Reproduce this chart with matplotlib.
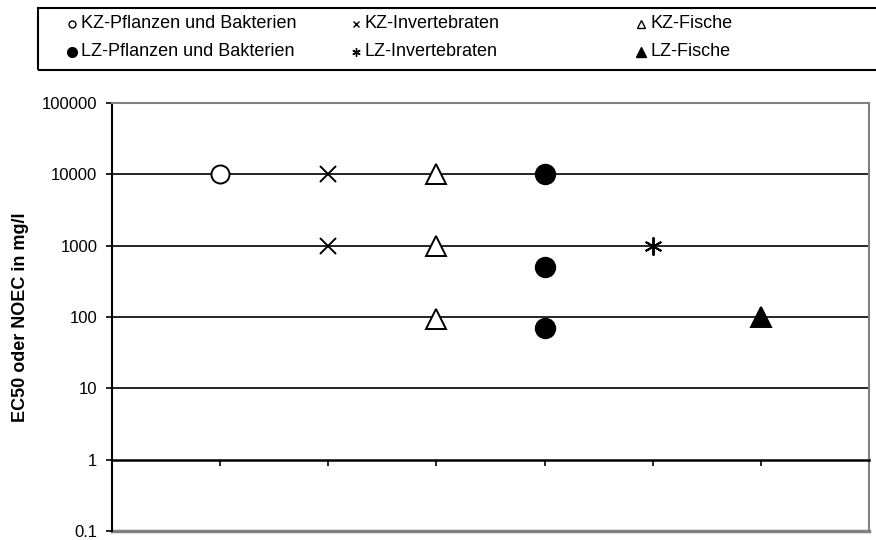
import matplotlib
matplotlib.use("Agg")
import matplotlib.pyplot as plt
from matplotlib.lines import Line2D
from matplotlib.patches import Rectangle
from matplotlib.ticker import FixedLocator, NullLocator

plt.rcParams['font.family'] = ['Liberation Sans', 'DejaVu Sans']

# Daten
serien = ['KZ-Pflanzen und Bakterien', 'KZ-Invertebraten', 'KZ-Fische',
          'LZ-Pflanzen und Bakterien', 'LZ-Invertebraten', 'LZ-Fische']
x_pos = [1, 2, 3, 4, 5, 6]
werte = [
    [10000],
    [10000, 1000],
    [10000, 1000, 95],
    [10000, 500, 70],
    [1000],
    [100],
]
y_ticks = [0.1, 1, 10, 100, 1000, 10000, 100000]
y_labels = ['0.1', '1', '10', '100', '1000', '10000', '100000']

# Marker-Stile
stile = [
    dict(marker='o', mfc='white', ms=13),
    dict(marker='x', mfc='none', ms=12),
    dict(marker='^', mfc='white', ms=14),
    dict(marker='o', mfc='black', ms=14),
    dict(marker=(6, 2, 0), mfc='none', ms=13),
    dict(marker='^', mfc='black', ms=14),
]
leg_ms = [5, 5, 6, 7, 6, 7]

W, H = 876, 540
fig = plt.figure(figsize=(W / 100, H / 100), dpi=100)
ax = fig.add_axes([112 / W, 1 - 531 / H, (869 - 112) / W, (531 - 103) / H])

ax.set_yscale('log')
ax.set_ylim(0.1, 100000)
ax.set_xlim(0, 7)

for g in [10, 100, 1000, 10000]:
    ax.axhline(g, color='black', lw=1.2, zorder=1)
ax.axhline(0.1, color='#808080', lw=2.5, clip_on=False, zorder=1)

for x, ys, st in zip(x_pos, werte, stile):
    ax.plot([x] * len(ys), ys, linestyle='none', color='black', mec='black',
            mew=1.4, zorder=3, clip_on=False, **st)

# Achsen
ax.spines['bottom'].set_position(('data', 1))
ax.spines['bottom'].set_linewidth(1.8)
ax.spines['left'].set_linewidth(1.5)
ax.spines['top'].set_color('#808080')
ax.spines['top'].set_linewidth(1.5)
ax.spines['right'].set_color('#808080')
ax.spines['right'].set_linewidth(1.5)

ax.xaxis.set_major_locator(FixedLocator([1, 2, 3, 4, 5, 6, 7]))
ax.xaxis.set_minor_locator(NullLocator())
ax.tick_params(axis='x', direction='out', length=4, width=1.2, labelbottom=False)

ax.yaxis.set_major_locator(FixedLocator(y_ticks))
ax.yaxis.set_minor_locator(NullLocator())
ax.set_yticklabels(y_labels)
ax.tick_params(axis='y', direction='out', length=4.5, width=1.2, pad=6, labelsize=12)

ax.set_ylabel('EC50 oder NOEC in mg/l', fontsize=13, fontweight='bold', labelpad=9)

# Legende
fig.add_artist(Rectangle((38 / W, 1 - 70 / H), 1.0, 62 / H, transform=fig.transFigure,
                         fill=False, lw=1.5, ec='black'))
spalten_x = [72, 356, 641]
zeilen_y = [24, 52]
for i, (name, st) in enumerate(zip(serien, stile)):
    col = i % 3
    row = i // 3
    mx = spalten_x[col] / W
    my = 1 - zeilen_y[row] / H
    kw = dict(st)
    kw['ms'] = leg_ms[i]
    fig.add_artist(Line2D([mx], [my], transform=fig.transFigure, linestyle='none',
                          color='black', mec='black', mew=1.0, **kw))
    fig.text(mx + 9 / W, my, name, va='center', ha='left', fontsize=13)

fig.savefig('out.png', dpi=100)
